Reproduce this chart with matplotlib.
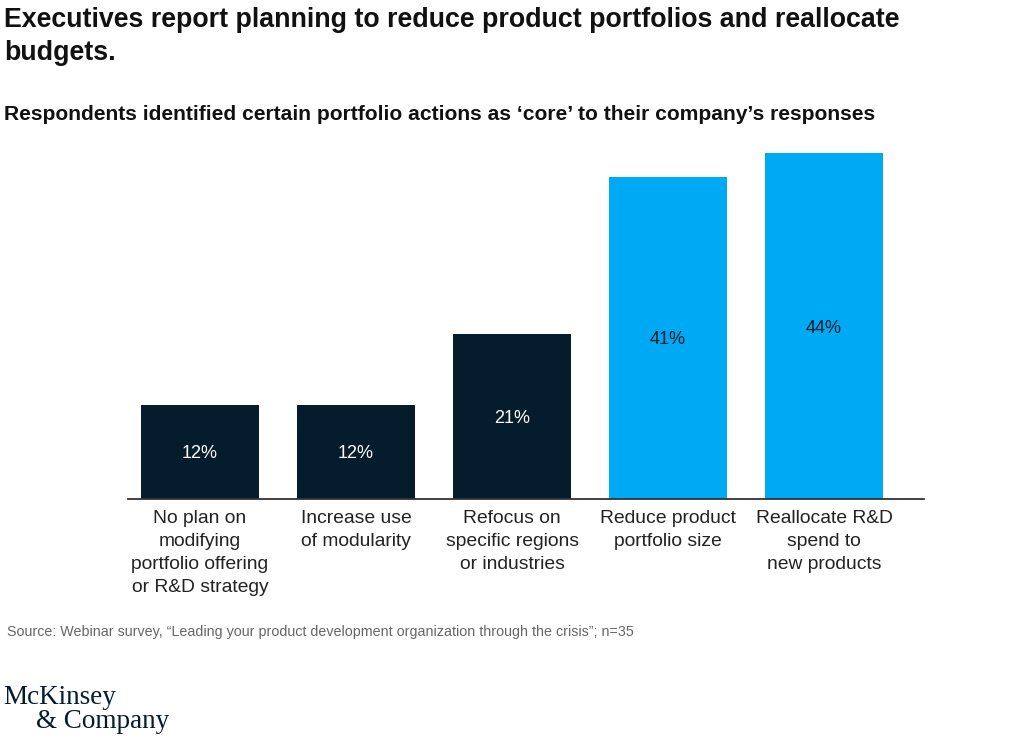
import matplotlib
matplotlib.use("Agg")
import matplotlib.pyplot as plt

categories = [
    "No plan on\nmodifying\nportfolio offering\nor R&D strategy",
    "Increase use\nof modularity",
    "Refocus on\nspecific regions\nor industries",
    "Reduce product\nportfolio size",
    "Reallocate R&D\nspend to\nnew products",
]
values = [12, 12, 21, 41, 44]
value_labels = ["12%", "12%", "21%", "41%", "44%"]
highlight = [False, False, False, True, True]

NAVY = "#051C2C"
BLUE = "#00A9F4"
FONT = ["Liberation Sans", "DejaVu Sans"]

W, H = 1024, 740
fig = plt.figure(figsize=(W / 100, H / 100), dpi=100)

px_per_pct = 7.86
ymax = 45
base_px = 499
left_px, right_px = 128, 924
ax = fig.add_axes([left_px / W, (H - base_px) / H, (right_px - left_px) / W, ymax * px_per_pct / H])

x = list(range(len(values)))
colors = [BLUE if h else NAVY for h in highlight]
bars = ax.bar(x, values, width=0.756, color=colors, zorder=2)
spacing = 156
ax.set_xlim((left_px - 200) / spacing, (right_px - 200) / spacing)
ax.set_ylim(0, ymax)

for xi, v, lab, h in zip(x, values, value_labels, highlight):
    ax.text(xi, v / 2, lab, ha="center", va="center_baseline", fontsize=13,
            color=NAVY if h else "white", family=FONT, fontweight="light")

for s in ["top", "right", "left"]:
    ax.spines[s].set_visible(False)
ax.spines["bottom"].set_color("#333333")
ax.spines["bottom"].set_linewidth(1.3)
ax.set_yticks([])
ax.set_xticks(x)
ax.set_xticklabels(categories, fontsize=13.9, color="#222222", family=FONT, linespacing=1.45, va="top")
ax.tick_params(axis="x", length=0, pad=8)

fig.text(4 / W, 1 - 20 / H, "Executives report planning to reduce product portfolios and reallocate",
         ha="left", va="center", fontsize=19.3, fontweight="bold", color="#111111", family=FONT)
fig.text(4 / W, 1 - 53 / H, "budgets.",
         ha="left", va="center", fontsize=19.3, fontweight="bold", color="#111111", family=FONT)
fig.text(4 / W, 1 - 115 / H, "Respondents identified certain portfolio actions as \u2018core\u2019 to their company\u2019s responses",
         ha="left", va="center", fontsize=15.1, fontweight="bold", color="#111111", family=FONT)
fig.text(7 / W, 1 - 632 / H, "Source: Webinar survey, \u201cLeading your product development organization through the crisis\u201d; n=35",
         ha="left", va="center", fontsize=10.3, color="#666666", family=FONT)
fig.text(3 / W, 1 - 697 / H, "McKinsey", ha="left", va="center", fontsize=19.5,
         color=NAVY, family=["Liberation Serif", "DejaVu Serif"])
fig.text(36 / W, 1 - 722 / H, "& Company", ha="left", va="center", fontsize=19.5,
         color=NAVY, family=["Liberation Serif", "DejaVu Serif"])

fig.savefig("out.png", dpi=100)
